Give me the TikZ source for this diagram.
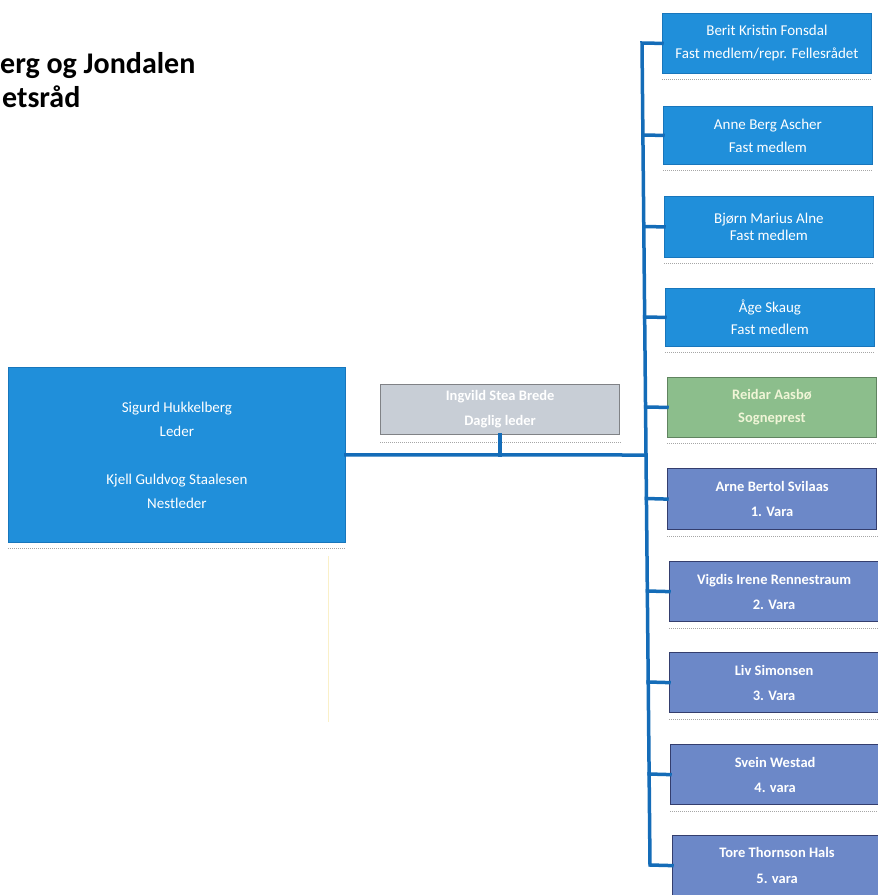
\documentclass[tikz,border=0pt]{standalone}
\usepackage{fontspec}
\setmainfont{Carlito}
\definecolor{boxblue}{RGB}{32,143,218}
\definecolor{boxblueedge}{RGB}{24,118,188}
\definecolor{varafill}{RGB}{108,136,200}
\definecolor{varaedge}{RGB}{52,62,110}
\definecolor{greenfill}{RGB}{140,190,140}
\definecolor{greenedge}{RGB}{96,132,96}
\definecolor{grayfill}{RGB}{200,206,214}
\definecolor{grayedge}{RGB}{128,130,134}
\definecolor{connblue}{RGB}{20,108,184}
\definecolor{faintyellow}{RGB}{250,240,200}
\tikzset{
  basebox/.style={rectangle, anchor=north west, align=center, text=white,
    line width=0.8pt, inner sep=2pt,
    font=\fontsize{15}{23}\selectfont},
  bluebox/.style={basebox, fill=boxblue, draw=boxblueedge},
  varabox/.style={basebox, fill=varafill, draw=varaedge, line width=1.2pt},
  greenbox/.style={basebox, fill=greenfill, draw=greenedge, text={rgb,255:red,240;green,245;blue,215}},
  graybox/.style={basebox, fill=grayfill, draw=grayedge, line width=1.2pt},
  rbox/.style={minimum width=209pt, minimum height=60pt},
  conn/.style={draw=connblue, line width=3.5pt, line join=miter, line cap=rect},
  shadowline/.style={draw=gray!70, line width=1pt, densely dotted},
  titletext/.style={anchor=base west, inner sep=0pt, font=\fontsize{30}{30}\bfseries\selectfont}
}
\begin{document}
\begin{tikzpicture}[x=1pt,y=-1pt]
\useasboundingbox (0,0) rectangle (878,895);
\fill[white] (0,0) rectangle (878,895);

% title
\node[titletext] (t1) at (0,73) {erg og Jondalen};
\node[titletext] (t2) at (2,107) {etsråd};

% left box
\node[bluebox, minimum width=337pt, minimum height=175pt, font=\fontsize{15}{24}\selectfont] (L) at (8,367)
  {Sigurd Hukkelberg\\Leder\\[24pt]Kjell Guldvog Staalesen\\Nestleder};
% middle box
\node[graybox, minimum width=239pt, minimum height=50pt, font=\fontsize{14.5}{25}\bfseries\selectfont] (M) at (380,384)
  {Ingvild Stea Brede\\Daglig leder};

% right boxes
\node[bluebox, rbox] (b1) at (662,13) {Berit Kristin Fonsdal\\Fast medlem/repr. Fellesrådet};
\node[bluebox, rbox, minimum height=58pt] (b2) at (663,106) {Anne Berg Ascher\\Fast medlem};
\node[bluebox, rbox, minimum height=61pt, font=\fontsize{15}{17}\selectfont] (b3) at (664,196) {Bjørn Marius Alne\\Fast medlem};
\node[bluebox, rbox, minimum height=58pt, font=\fontsize{15}{22}\selectfont] (b4) at (665,288) {Åge Skaug\\Fast medlem};
\node[greenbox, rbox, font=\fontsize{14.5}{23}\bfseries\selectfont] (b5) at (667,377) {Reidar Aasbø\\Sogneprest};
\node[varabox, rbox, minimum height=61pt, font=\fontsize{14.5}{25}\bfseries\selectfont] (b6) at (667,468) {Arne Bertol Svilaas\\1. Vara};
\node[varabox, rbox, font=\fontsize{14.5}{25}\bfseries\selectfont] (b7) at (669,561) {Vigdis Irene Rennestraum\\2. Vara};
\node[varabox, rbox, font=\fontsize{14.5}{25}\bfseries\selectfont] (b8) at (669,652) {Liv Simonsen\\3. Vara};
\node[varabox, rbox, font=\fontsize{14.5}{25}\bfseries\selectfont] (b9) at (670,744) {Svein Westad\\4. vara};
\node[varabox, rbox, font=\fontsize{14.5}{26}\bfseries\selectfont] (b10) at (672,835) {Tore Thornson Hals\\5. vara};

% bus coordinates
\coordinate (c1) at (642,43);
\coordinate (c2) at (642.9,135);
\coordinate (c3) at (643.8,226.5);
\coordinate (c4) at (644.7,317);
\coordinate (c5) at (645.6,407);
\coordinate (cm) at (646,455);
\coordinate (c6) at (646.4,498.5);
\coordinate (c7) at (647.3,591);
\coordinate (c8) at (648.2,682);
\coordinate (c9) at (649.1,774);
\coordinate (c10) at (650,865);

% shadow lines under boxes
\foreach \n in {b1,b2,b3,b4,b5,b6,b7,b8,b9}{
  \draw[shadowline] ([yshift=-6pt]\n.south west) -- ([yshift=-6pt]\n.south east);
}
\draw[shadowline] ([yshift=-6pt]L.south west) -- ([yshift=-6pt]L.south east);
\draw[shadowline] ([yshift=-7pt]M.south west) -- ([yshift=-7pt]M.south east);
\draw[faintyellow, line width=1pt] (328,556) -- (328,722);

% connectors
\draw[conn] (b1.west) -- (c1) -- (c10) -- (b10.west);
\foreach \i in {2,...,9}{
  \draw[conn] (c\i) -- (b\i.west);
}
\draw[conn] (L.east) -- (cm);
\draw[conn] (M.south) -- (M.south |- cm);
\end{tikzpicture}
\end{document}
